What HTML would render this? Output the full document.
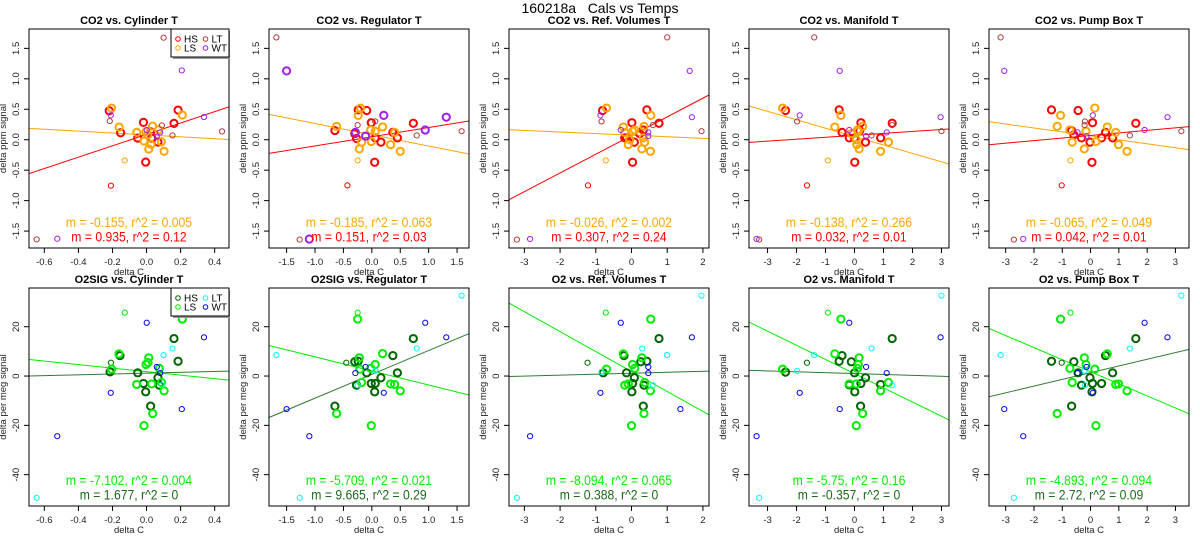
<!DOCTYPE html>
<html><head><meta charset="utf-8"><style>
html,body{margin:0;padding:0;background:#fff;}
svg{display:block;font-family:"Liberation Sans",sans-serif;}
</style></head><body>
<svg id="chart" width="1200" height="550" viewBox="0 0 1200 550" xmlns="http://www.w3.org/2000/svg">
<text x="600" y="13" text-anchor="middle" font-size="14" style="white-space:pre">160218a   Cals vs Temps</text>
</svg>
<script>
// ---- data ----
const titlesTop = ["CO2 vs. Cylinder T","CO2 vs. Regulator T","CO2 vs. Ref. Volumes T","CO2 vs. Manifold T","CO2 vs. Pump Box T"];
const titlesBot = ["O2SIG vs. Cylinder T","O2SIG vs. Regulator T","O2 vs. Ref. Volumes T","O2 vs. Manifold T","O2 vs. Pump Box T"];
const xRanges = [[-0.69,0.484],[-1.81,1.71],[-3.43,2.17],[-3.64,3.26],[-3.59,3.48]];
const xTicks = [[-0.6,-0.4,-0.2,0.0,0.2,0.4],[-1.5,-1.0,-0.5,0.0,0.5,1.0,1.5],[-3,-2,-1,0,1,2],[-3,-2,-1,0,1,2,3],[-3,-2,-1,0,1,2,3]];
const xTickDigits = [1,1,0,0,0];
const yRangeTop = [-1.778,1.818];
const yTicksTop = [-1.5,-1.0,-0.5,0.0,0.5,1.0,1.5];
const yRangeBot = [-52.7,35.7];
const yTicksBot = [-40,-20,0,20];
// regression lines: [slope, intercept]
const linesTopLS = [[-0.155,0.079],[-0.185,0.081],[-0.026,0.075],[-0.138,0.051],[-0.065,0.063]];
const linesTopHS = [[0.935,0.087],[0.151,0.049],[0.307,0.068],[0.032,0.072],[0.042,0.069]];
const linesBotLS = [[-7.102,1.8],[-5.709,2.07],[-8.094,1.84],[-5.75,0.97],[-4.893,1.73]];
const linesBotHS = [[1.677,1.16],[9.665,0.69],[0.388,1.13],[-0.357,1.0],[2.72,1.37]];
const labTopLS = ["m = -0.155, r^2 = 0.005","m = -0.185, r^2 = 0.063","m = -0.026, r^2 = 0.002","m = -0.138, r^2 = 0.266","m = -0.065, r^2 = 0.049"];
const labTopHS = ["m = 0.935, r^2 = 0.12","m = 0.151, r^2 = 0.03","m = 0.307, r^2 = 0.24","m = 0.032, r^2 = 0.01","m = 0.042, r^2 = 0.01"];
const labBotLS = ["m = -7.102, r^2 = 0.004","m = -5.709, r^2 = 0.021","m = -8.094, r^2 = 0.065","m = -5.75, r^2 = 0.16","m = -4.893, r^2 = 0.094"];
const labBotHS = ["m = 1.677, r^2 = 0","m = 9.665, r^2 = 0.29","m = 0.388, r^2 = 0","m = -0.357, r^2 = 0","m = 2.72, r^2 = 0.09"];

// points: [x, y, group]  (hs/ls = small symbols)
const co2Cyl = [[-0.219,0.476,'HS'],[-0.152,0.115,'HS'],[-0.052,0.027,'HS'],[-0.018,0.285,'HS'],[-0.005,-0.367,'HS'],[0.03,0.027,'HS'],[0.067,-0.038,'HS'],[0.161,0.268,'HS'],[0.185,0.487,'HS'],[0.025,0.13,'HS'],
[-0.206,0.52,'LS'],[-0.161,0.208,'LS'],[-0.057,0.12,'LS'],[-0.015,-0.022,'LS'],[-0.003,0.13,'LS'],[0.013,-0.153,'LS'],[0.026,-0.077,'LS'],[0.036,0.224,'LS'],[0.071,0.164,'LS'],[0.087,-0.033,'LS'],[0.103,-0.19,'LS'],[0.21,0.405,'LS'],[0.007,0.08,'LS'],
[0.1,1.675,'LT'],[-0.216,0.306,'LT'],[0.09,0.235,'LT'],[0.152,0.071,'LT'],[0.443,0.137,'LT'],[-0.645,-1.637,'LT'],[-0.209,-0.755,'hs'],[-0.128,-0.34,'ls'],
[0.207,1.138,'WT'],[-0.21,0.4,'WT'],[0.337,0.372,'WT'],[-0.524,-1.626,'WT'],[0.001,0.159,'WT'],[0.08,0.12,'WT'],[0.06,0.05,'WT']];
const co2Reg = [[-0.65,0.15,'HS'],[-0.3,0.1,'HS'],[-0.27,0.02,'HS'],[-0.24,0.49,'HS'],[-0.09,0.48,'HS'],[-0.01,0.28,'HS'],[0.06,0.03,'HS'],[0.05,-0.37,'HS'],[0.16,-0.04,'HS'],[0.37,0.12,'HS'],[0.45,0.03,'HS'],[0.73,0.27,'HS'],
[-0.62,0.22,'LS'],[-0.24,0.4,'LS'],[-0.2,0.52,'LS'],[-0.22,-0.15,'LS'],[-0.18,-0.04,'LS'],[-0.02,0.16,'LS'],[-0.01,-0.03,'LS'],[0.06,0.14,'LS'],[0.19,0.21,'LS'],[0.33,-0.08,'LS'],[0.4,0.12,'LS'],[0.5,-0.19,'LS'],
[-1.68,1.68,'LT'],[-0.25,0.24,'LT'],[0.06,0.3,'LT'],[0.79,0.07,'LT'],[1.58,0.14,'LT'],[-1.27,-1.64,'LT'],[-0.43,-0.75,'hs'],[-0.25,-0.34,'ls'],
[-1.5,1.13,'WTb'],[-1.1,-1.63,'WTb'],[-0.29,0.12,'WTb'],[-0.11,0.06,'WTb'],[0.21,0.4,'WTb'],[0.94,0.16,'WTb'],[1.31,0.37,'WTb']];
const co2Ref = [[-0.81,0.48,'HS'],[-0.14,0.03,'HS'],[0.01,0.28,'HS'],[0.03,-0.37,'HS'],[0.08,-0.04,'HS'],[0.23,0.1,'HS'],[0.33,0.16,'HS'],[0.43,0.49,'HS'],[0.77,0.27,'HS'],[-0.19,0.03,'HS'],
[-0.7,0.52,'LS'],[-0.23,0.21,'LS'],[-0.19,0.12,'LS'],[-0.09,-0.08,'LS'],[-0.05,0,'LS'],[0.03,0.14,'LS'],[0.09,0.16,'LS'],[0.29,-0.15,'LS'],[0.35,0.22,'LS'],[0.37,-0.04,'LS'],[0.53,-0.19,'LS'],[0.54,0.4,'LS'],[0.33,0.03,'LS'],
[1,1.68,'LT'],[-0.84,0.3,'LT'],[0.6,0.24,'LT'],[1.96,0.14,'LT'],[-3.21,-1.64,'LT'],[-1.22,-0.75,'hs'],[-0.72,-0.34,'ls'],
[1.63,1.13,'WT'],[-0.87,0.4,'WT'],[1.69,0.37,'WT'],[-2.84,-1.63,'WT'],[-0.3,0.16,'WT'],[0.47,0.12,'WT'],[0.47,0.06,'WT']];
const co2Man = [[-2.38,0.48,'HS'],[-0.53,0.49,'HS'],[-0.43,0.12,'HS'],[-0.18,0.03,'HS'],[0,0.03,'HS'],[0.01,-0.37,'HS'],[0.22,0.28,'HS'],[0.38,-0.04,'HS'],[0.9,0.03,'HS'],[1.3,0.27,'HS'],[0.18,0.15,'HS'],
[-2.48,0.52,'LS'],[-0.68,0.21,'LS'],[-0.47,0.4,'LS'],[-0.11,0.1,'LS'],[0.06,0,'LS'],[0.08,-0.08,'LS'],[0.1,0.16,'LS'],[0.16,-0.15,'LS'],[0.28,0.22,'LS'],[0.9,-0.19,'LS'],[1.17,-0.04,'LS'],[0.13,0.14,'LS'],
[-1.39,1.68,'LT'],[-1.98,0.3,'LT'],[0.59,0.07,'LT'],[1.3,0.24,'LT'],[3,0.14,'LT'],[-3.29,-1.64,'LT'],[-1.64,-0.75,'hs'],[-0.92,-0.34,'ls'],
[-0.51,1.13,'WT'],[-1.89,0.4,'WT'],[2.97,0.37,'WT'],[-3.38,-1.63,'WT'],[-0.18,0.16,'WT'],[0.4,0.06,'WT'],[1.11,0.12,'WT']];
const co2Pump = [[-1.38,0.49,'HS'],[-0.59,0.08,'HS'],[-0.44,0.48,'HS'],[-0.32,0.03,'HS'],[-0.02,-0.04,'HS'],[0.05,-0.37,'HS'],[0.07,0.28,'HS'],[0.53,0.12,'HS'],[0.78,0.03,'HS'],[1.6,0.27,'HS'],[0.39,0.03,'HS'],[-0.67,0.15,'HS'],
[-1.06,0.4,'LS'],[-1.18,0.22,'LS'],[-0.73,0.16,'LS'],[-0.65,-0.04,'LS'],[-0.22,-0.15,'LS'],[-0.16,0.14,'LS'],[0.15,0.52,'LS'],[0.19,-0.03,'LS'],[0.59,0.21,'LS'],[0.89,0.12,'LS'],[0.99,-0.08,'LS'],[1.29,-0.19,'LS'],
[-3.18,1.68,'LT'],[-0.2,0.3,'LT'],[-0.21,0.24,'LT'],[1.39,0.07,'LT'],[3.21,0.14,'LT'],[-2.71,-1.64,'LT'],[-1.02,-0.75,'hs'],[-0.71,-0.34,'ls'],
[-3.05,1.13,'WT'],[0.08,0.4,'WT'],[2.72,0.37,'WT'],[-2.38,-1.63,'WT'],[-0.46,0.12,'WT'],[-0.14,0.06,'WT'],[1.91,0.16,'WT']];

const o2Cyl = [[-0.214,1.7,'HS'],[-0.052,1.3,'HS'],[-0.018,-3.0,'HS'],[-0.005,-6.4,'HS'],[0.024,-12.2,'HS'],[0.067,-0.7,'HS'],[0.075,-3.7,'HS'],[0.161,15.2,'HS'],[0.185,6.0,'HS'],[-0.156,8.3,'HS'],[-0.209,5.4,'hs'],
[-0.205,2.8,'LS'],[-0.162,9,'LS'],[-0.058,-3.4,'LS'],[-0.015,-20.1,'LS'],[-0.003,4.7,'LS'],[0.009,5.5,'LS'],[0.013,7.4,'LS'],[0.03,-3.2,'LS'],[0.036,-15.2,'LS'],[0.075,3.1,'LS'],[0.087,-2.6,'LS'],[0.103,-6,'LS'],[0.21,23.1,'LS'],[-0.128,25.7,'ls'],
[-0.645,-49.4,'LT'],[0.1,8.5,'LT'],[0.152,11.2,'LT'],[0.09,-3.7,'LT'],
[-0.21,-6.8,'WT'],[-0.524,-24.4,'WT'],[0.001,21.6,'WT'],[0.337,15.7,'WT'],[0.207,-13.4,'WT'],[0.06,3.7,'WT'],[0.08,1.2,'WT']];
const o2Reg = [[-0.65,-12.2,'HS'],[-0.45,5.4,'hs'],[-0.3,5.8,'HS'],[-0.27,-3.7,'HS'],[-0.24,6,'HS'],[-0.09,1.3,'HS'],[-0.01,-3,'HS'],[0.05,-6.4,'HS'],[0.06,-3,'HS'],[0.16,-0.7,'HS'],[0.37,8.3,'HS'],[0.45,1.3,'HS'],[0.73,15.2,'HS'],
[-0.62,-15.2,'LS'],[-0.25,23.1,'LS'],[-0.22,7.4,'LS'],[-0.21,2.8,'LS'],[-0.18,-2.6,'LS'],[-0.02,3.1,'LS'],[-0.01,-20.1,'LS'],[0.06,4.7,'LS'],[0.19,9.1,'LS'],[0.33,-3.2,'LS'],[0.4,-3.4,'LS'],[0.5,-6,'LS'],[-0.25,25.7,'ls'],
[-1.68,8.5,'LT'],[-1.27,-49.4,'LT'],[0.79,11.2,'LT'],[1.58,32.6,'LT'],[-0.25,-3.7,'LT'],[0.06,2.2,'LT'],
[-1.5,-13.4,'WT'],[-1.1,-24.4,'WT'],[-0.29,1.2,'WT'],[-0.11,3.7,'WT'],[0.21,-6.8,'WT'],[0.94,21.6,'WT'],[1.31,15.7,'WT']];
const o2Ref = [[-1.23,5.4,'hs'],[-0.79,1.3,'HS'],[-0.21,8.3,'HS'],[-0.14,1.3,'HS'],[0.01,-6.4,'HS'],[0.03,-3,'HS'],[0.08,-0.7,'HS'],[0.26,5.8,'HS'],[0.33,-12.2,'HS'],[0.35,-3.7,'HS'],[0.43,6,'HS'],[0.77,15.2,'HS'],
[-0.7,2.8,'LS'],[-0.72,25.7,'ls'],[-0.23,9,'LS'],[-0.19,-3.7,'LS'],[-0.09,-3.2,'LS'],[0,-20.1,'LS'],[0.03,4.7,'LS'],[0.09,3.1,'LS'],[0.29,7.4,'LS'],[0.35,-15.2,'LS'],[0.37,-2.6,'LS'],[0.53,-6,'LS'],[0.54,23.1,'LS'],
[-3.21,-49.4,'LT'],[-0.84,1.7,'LT'],[0.3,11.2,'LT'],[1,8.5,'LT'],[0.6,-3.7,'LT'],[1.96,32.6,'LT'],
[-2.84,-24.4,'WT'],[-0.87,-6.8,'WT'],[-0.3,21.6,'WT'],[0.47,3.7,'WT'],[0.47,1.2,'WT'],[1.37,-13.4,'WT'],[1.69,15.7,'WT']];
const o2Man = [[-2.38,1.6,'HS'],[-1.64,5.4,'hs'],[-0.53,6,'HS'],[-0.43,8.3,'HS'],[-0.18,-3.6,'HS'],[-0.11,5.8,'HS'],[0,1.3,'HS'],[0.01,-6.4,'HS'],[0.21,-12.2,'HS'],[0.22,-3,'HS'],[0.38,-0.7,'HS'],[0.9,-3.4,'HS'],[1.3,15.2,'HS'],
[-2.48,2.8,'LS'],[-0.92,25.7,'ls'],[-0.68,9,'LS'],[-0.47,23.1,'LS'],[-0.18,-3.2,'LS'],[0.06,-3.2,'LS'],[0.1,3.1,'LS'],[0.13,4.7,'LS'],[0.16,7.4,'LS'],[0.06,-20.1,'LS'],[0.28,-15.2,'LS'],[0.9,-6,'LS'],[1.17,-2.6,'LS'],
[-3.29,-49.4,'LT'],[-1.98,2.1,'LT'],[-1.39,8.5,'LT'],[0.59,11.2,'LT'],[1.3,-3.7,'LT'],[3,32.6,'LT'],
[-3.38,-24.4,'WT'],[-1.89,-6.8,'WT'],[-0.51,-13.4,'WT'],[-0.18,21.6,'WT'],[0.4,3.7,'WT'],[1.11,1.2,'WT'],[2.97,15.7,'WT']];
const o2Pump = [[-1.38,6,'HS'],[-1.02,5.4,'hs'],[-0.67,-12.2,'HS'],[-0.59,5.8,'HS'],[-0.44,1.3,'HS'],[-0.32,-3.7,'HS'],[-0.02,-0.7,'HS'],[0.05,-6.4,'HS'],[0.07,-3,'HS'],[0.39,-3,'HS'],[0.53,8.3,'HS'],[0.78,1.3,'HS'],[1.6,15.2,'HS'],
[-1.18,-15.2,'LS'],[-1.06,23.1,'LS'],[-0.73,3.1,'LS'],[-0.71,25.7,'ls'],[-0.65,-2.6,'LS'],[-0.22,7.4,'LS'],[-0.16,4.7,'LS'],[0.15,2.8,'LS'],[0.19,-20.1,'LS'],[0.59,9,'LS'],[0.89,-3.4,'LS'],[0.99,-3.2,'LS'],[1.29,-6,'LS'],
[-3.18,8.5,'LT'],[-2.71,-49.4,'LT'],[-0.21,2.2,'LT'],[-0.2,-3.7,'LT'],[1.39,11.2,'LT'],[3.21,32.6,'LT'],
[-3.05,-13.4,'WT'],[-2.38,-24.4,'WT'],[-0.46,1.2,'WT'],[-0.14,3.7,'WT'],[0.08,-6.8,'WT'],[1.91,21.6,'WT'],[2.72,15.7,'WT']];
const topPoints = [co2Cyl,co2Reg,co2Ref,co2Man,co2Pump];
const botPoints = [o2Cyl,o2Reg,o2Ref,o2Man,o2Pump];

// ---- drawing ----
const svg = document.getElementById('chart');
const NS = 'http://www.w3.org/2000/svg';
function mk(tag, attrs, parent){const e=document.createElementNS(NS,tag);for(const k in attrs)e.setAttribute(k,attrs[k]);(parent||svg).appendChild(e);return e;}
const colTop = {HS:'#ff0000',hs:'#ff0000',LS:'#ffa500',ls:'#ffa500',LT:'#b03c3c',WT:'#a020f0',WTb:'#a020f0'};
const colBot = {HS:'#006400',hs:'#006400',LS:'#00ee00',ls:'#00ee00',LT:'#00ffff',WT:'#0000ff',WTb:'#0000ff'};
function fmt(v,d){return v.toFixed(d);}
function squeeze(t){const w=t.getComputedTextLength();t.setAttribute('textLength',(w*0.87).toFixed(1));t.setAttribute('lengthAdjust','spacingAndGlyphs');}

function panel(c,row){
  const top = row===0;
  const X0=29+240*c, X1=229+240*c;
  const Y0= top?29:288, Y1= top?248:506;
  const xr=xRanges[c], yr= top?yRangeTop:yRangeBot;
  const sx=v=>X0+(v-xr[0])/(xr[1]-xr[0])*(X1-X0);
  const sy=v=>Y1-(v-yr[0])/(yr[1]-yr[0])*(Y1-Y0);
  const g=mk('g',{});
  
  
  const t=mk('text',{x:(X0+X1)/2,y:Y0-5,'text-anchor':'middle','font-size':'11','font-weight':'bold'},g);
  t.textContent=(top?titlesTop:titlesBot)[c];
  
  
  const cid='clip'+row+c;
  const cp=mk('clipPath',{id:cid},g);mk('rect',{x:X0,y:Y0,width:X1-X0,height:Y1-Y0},cp);
  const ls=(top?linesTopLS:linesBotLS)[c], hs=(top?linesTopHS:linesBotHS)[c];
  const lcLS= top?'#ffa500':'#00ee00', lcHS= top?'#ff0000':'#2e7d32';
  [[ls,lcLS,'ls-fit-line'],[hs,lcHS,'hs-fit-line']].forEach(([m,col,nm])=>{
    const l=mk('line',{x1:sx(xr[0]),y1:sy(m[0]*xr[0]+m[1]),x2:sx(xr[1]),y2:sy(m[0]*xr[1]+m[1]),stroke:col,'stroke-width':'1','clip-path':'url(#'+cid+')'},g);
    
    
  });
  const cols= top?colTop:colBot;
  (top?topPoints:botPoints)[c].forEach(p=>{
    const big = p[2]==='HS'||p[2]==='LS'||p[2]==='WTb';
    const cc=mk('circle',{cx:sx(p[0]),cy:sy(p[1]),r:big?3.6:2.6,fill:'none',stroke:cols[p[2]],'stroke-width':big?2:1},g);
    
    
  });
  mk('rect',{x:X0,y:Y0,width:X1-X0,height:Y1-Y0,fill:'none',stroke:'#000','stroke-width':'1'},g);
  xTicks[c].forEach(v=>{
    const x=sx(v);
    mk('line',{x1:x,y1:Y1,x2:x,y2:Y1+5,stroke:'#000'},g);
    const tt=mk('text',{x:x,y:Y1+17,'text-anchor':'middle','font-size':'9.5',fill:'#222'},g);
    tt.textContent=fmt(v,xTickDigits[c]);
    
    
  });
  const xt=mk('text',{x:(X0+X1)/2,y:Y1+27,'text-anchor':'middle','font-size':'9.5',fill:'#222'},g);
  xt.textContent='delta C';
  
  
  (top?yTicksTop:yTicksBot).forEach(v=>{
    const y=sy(v);
    mk('line',{x1:X0-5,y1:y,x2:X0,y2:y,stroke:'#000'},g);
    const tt=mk('text',{x:X0-10,y:y,'text-anchor':'middle','font-size':'9.5',fill:'#222',transform:'rotate(-90 '+(X0-10)+' '+y+')'},g);
    tt.textContent= top?fmt(v,1):String(v);
    
    
  });
  const yx=X0-23, ym=(Y0+Y1)/2;
  const yt=mk('text',{x:yx,y:ym,'text-anchor':'middle','font-size':'9.5',fill:'#222',transform:'rotate(-90 '+yx+' '+ym+')'},g);
  yt.textContent= top?'delta ppm signal':'delta per meg signal';
  
  
  const a1=mk('text',{x:(X0+X1)/2,y:Y1-21,'text-anchor':'middle','font-size':'14',fill:lcLS},g);
  a1.textContent=(top?labTopLS:labBotLS)[c];
  
  
  squeeze(a1);
  const a2=mk('text',{x:(X0+X1)/2,y:Y1-6.5,'text-anchor':'middle','font-size':'14',fill: top?'#ff0000':'#1b6b1b'},g);
  a2.textContent=(top?labTopHS:labBotHS)[c];
  
  
  squeeze(a2);
  if(c===0){
    const lg=mk('g',{},g);
    
    
    mk('rect',{x:173,y:Y0+2,width:57,height:28,fill:'#999'},lg);
    mk('rect',{x:171,y:Y0,width:58,height:28,fill:'#fff',stroke:'#000'},lg);
    const ent=[['HS',178,Y0+10],['LT',205.5,Y0+10],['LS',178,Y0+19],['WT',205.5,Y0+19]];
    ent.forEach(e=>{
      const eg=mk('g',{},lg);
      
      
      mk('circle',{cx:e[1],cy:e[2],r:2.3,fill:'none',stroke:cols[e[0]],'stroke-width':1},eg);
      const lt=mk('text',{x:e[1]+6,y:e[2]+3.5,'font-size':'10',fill:'#000'},eg);
      lt.textContent=e[0];
    });
  }
}
for(let r=0;r<2;r++)for(let c=0;c<5;c++)panel(c,r);
</script>
</body></html>
